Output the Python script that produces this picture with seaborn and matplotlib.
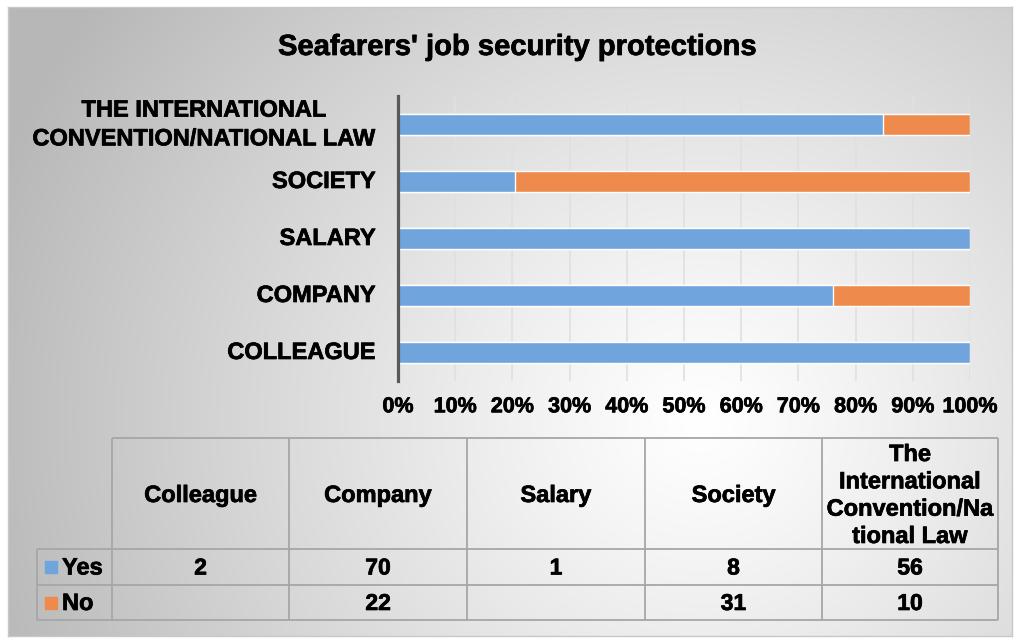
import numpy as np
import pandas as pd
import matplotlib
matplotlib.use("Agg")
import matplotlib.pyplot as plt
import matplotlib.patheffects as pe
import seaborn as sns

# ---- data ----
categories = ["Colleague", "Company", "Salary", "Society",
              "The International Convention/National Law"]
axis_labels = ["COLLEAGUE", "COMPANY", "SALARY", "SOCIETY",
               "THE INTERNATIONAL\nCONVENTION/NATIONAL LAW"]
table_headers = ["Colleague", "Company", "Salary", "Society",
                 "The\nInternational\nConvention/Na\ntional Law"]
yes_counts = [2, 70, 1, 8, 56]
no_counts = [None, 22, None, 31, 10]
series_names = ["Yes", "No"]
x_ticks = [0, 10, 20, 30, 40, 50, 60, 70, 80, 90, 100]
title = "Seafarers' job security protections"

BLUE = "#6fa5dc"
ORANGE = "#ee8a4b"

sns.set_theme(style="white")
plt.rcParams["font.family"] = ["Liberation Sans", "DejaVu Sans"]
plt.rcParams["font.weight"] = "bold"
plt.rcParams["text.color"] = "black"
plt.rcParams["xtick.color"] = "black"
plt.rcParams["ytick.color"] = "black"

HEAVY = [pe.withStroke(linewidth=0.5, foreground="black")]

W, H = 1019, 643
fig = plt.figure(figsize=(W / 100, H / 100), dpi=100)
fig.patch.set_facecolor("white")

# ---- background gradient panel ----
bg = fig.add_axes([8 / W, 7 / H, 1004 / W, 629 / H], zorder=-10)
yy, xx = np.mgrid[8:636, 8:1012]
r = np.sqrt(((xx - 700) / 1.0) ** 2 + ((yy - 420) / 0.95) ** 2)
v = 1 - 0.26 * (r / 700) ** 1.15
v = np.clip(v, 0.72, 1.0)
bg.imshow(np.dstack([v, v, v]), aspect="auto", extent=[0, 1, 0, 1], origin="upper")
bg.set_xticks([]); bg.set_yticks([])
for s in bg.spines.values():
    s.set_color("#c8c8c8"); s.set_linewidth(1)

# ---- bar chart ----
df = pd.DataFrame({"cat": categories, "yes": yes_counts,
                   "no": [0 if n is None else n for n in no_counts]})
df["total"] = df["yes"] + df["no"]
df["yes_pct"] = df["yes"] / df["total"] * 100
df["all_pct"] = (df["yes"] + df["no"]) / df["total"] * 100
order = categories[::-1]

ax = fig.add_axes([398 / W, 1 - 381 / H, 572 / W, 285 / H])
ax.set_facecolor("none")
sns.barplot(data=df, x="all_pct", y="cat", order=order, color=ORANGE,
            saturation=1, width=0.37, ax=ax, zorder=3)
sns.barplot(data=df, x="yes_pct", y="cat", order=order, color=BLUE,
            saturation=1, width=0.37, ax=ax, zorder=4)
ax.set_xlim(0, 100)
ax.set_xticks(x_ticks)
ax.set_xticklabels([f"{t}%" for t in x_ticks], fontsize=15.5, fontweight="bold",
                   color="black", path_effects=HEAVY)
lab_map = dict(zip(categories, axis_labels))
ax.set_yticks(range(len(order)))
ax.set_yticklabels([lab_map[c] for c in order], fontsize=17, fontweight="bold",
                   multialignment="center", linespacing=1.32, color="black",
                   path_effects=HEAVY, va="center")
ax.set_ylim(len(order) - 0.5, -0.5)
ax.set_xlabel(""); ax.set_ylabel("")
ax.tick_params(axis="y", length=0, pad=16)
ax.tick_params(axis="x", length=0, pad=11)
ax.grid(axis="x", color="#e0e0e0", linewidth=1.2, zorder=0)
ax.grid(axis="y", visible=False)
for k in ["top", "right", "bottom"]:
    ax.spines[k].set_visible(False)
ax.spines["left"].set_color("#595959")
ax.spines["left"].set_linewidth(2.3)
ax.spines["left"].set_zorder(6)

fig.text(517 / W, 1 - 47 / H, title, ha="center", va="center",
         fontsize=21, fontweight="bold", color="black", path_effects=HEAVY)

# ---- data table ----
tb = fig.add_axes([0, 0, 1, 1], zorder=5)
tb.set_xlim(0, W); tb.set_ylim(H, 0); tb.axis("off")
col_x = [37, 112, 289, 467, 645, 822, 998]
row_y = [438, 549, 585, 620]
lc = "#a6a6a6"; lw = 1.3
tb.hlines(row_y[0], col_x[1], col_x[-1], color=lc, lw=lw)
for yv in row_y[1:]:
    tb.hlines(yv, col_x[0], col_x[-1], color=lc, lw=lw)
tb.vlines(col_x[0], row_y[1], row_y[-1], color=lc, lw=lw)
for xv in col_x[1:]:
    tb.vlines(xv, row_y[0], row_y[-1], color=lc, lw=lw)

for i, h in enumerate(table_headers):
    cx = (col_x[i + 1] + col_x[i + 2]) / 2
    tb.text(cx, (row_y[0] + row_y[1]) / 2 + 2, h, ha="center", va="center",
            fontsize=17, fontweight="bold", linespacing=1.24, color="black",
            path_effects=HEAVY)

rows = [yes_counts, no_counts]
colors = [BLUE, ORANGE]
for r_i, (name, vals, c) in enumerate(zip(series_names, rows, colors)):
    cy = (row_y[r_i + 1] + row_y[r_i + 2]) / 2
    tb.add_patch(plt.Rectangle((45, cy - 6), 12, 12, color=c, zorder=6))
    tb.text(62, cy + 1, name, ha="left", va="center", fontsize=17,
            fontweight="bold", color="black", path_effects=HEAVY)
    for i, val in enumerate(vals):
        if val is None:
            continue
        cx = (col_x[i + 1] + col_x[i + 2]) / 2
        tb.text(cx, cy + 1, str(val), ha="center", va="center",
                fontsize=16.5, fontweight="bold", color="black",
                path_effects=HEAVY)

fig.savefig("out.png", dpi=100)
